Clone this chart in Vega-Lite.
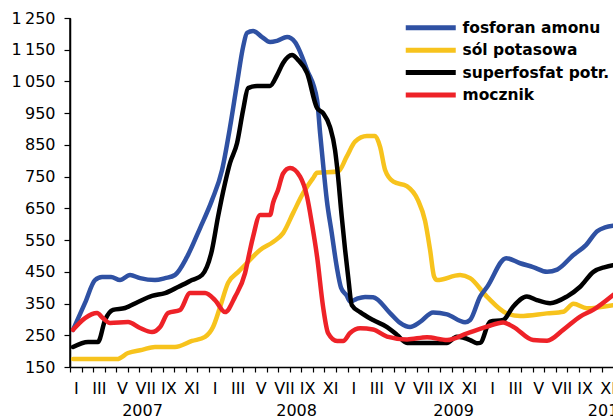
{
  "$schema": "https://vega.github.io/schema/vega-lite/v6.json",
  "width": 543,
  "height": 349,
  "autosize": {"type": "none"},
  "padding": {"left": 70, "top": 18, "right": 0, "bottom": 53},
  "background": "white",
  "config": {"view": {"stroke": null}, "font": "DejaVu Sans"},
  "datasets": {
    "prices": [
      {"series": "sól potasowa", "month": 0.26, "price": 175},
      {"series": "sól potasowa", "month": 4.07, "price": 175},
      {"series": "sól potasowa", "month": 5.02, "price": 194},
      {"series": "sól potasowa", "month": 6.23, "price": 204},
      {"series": "sól potasowa", "month": 7.35, "price": 213},
      {"series": "sól potasowa", "month": 9.08, "price": 213},
      {"series": "sól potasowa", "month": 10.55, "price": 232},
      {"series": "sól potasowa", "month": 11.68, "price": 245},
      {"series": "sól potasowa", "month": 12.37, "price": 276},
      {"series": "sól potasowa", "month": 12.98, "price": 339},
      {"series": "sól potasowa", "month": 13.67, "price": 415},
      {"series": "sól potasowa", "month": 14.53, "price": 449},
      {"series": "sól potasowa", "month": 15.31, "price": 478},
      {"series": "sól potasowa", "month": 16.44, "price": 519},
      {"series": "sól potasowa", "month": 17.56, "price": 544},
      {"series": "sól potasowa", "month": 18.43, "price": 572},
      {"series": "sól potasowa", "month": 19.29, "price": 635},
      {"series": "sól potasowa", "month": 20.16, "price": 698},
      {"series": "sól potasowa", "month": 21.02, "price": 745},
      {"series": "sól potasowa", "month": 21.37, "price": 762},
      {"series": "sól potasowa", "month": 23.18, "price": 766},
      {"series": "sól potasowa", "month": 23.93, "price": 813},
      {"series": "sól potasowa", "month": 24.65, "price": 860},
      {"series": "sól potasowa", "month": 25.67, "price": 878},
      {"series": "sól potasowa", "month": 26.38, "price": 878},
      {"series": "sól potasowa", "month": 26.82, "price": 844},
      {"series": "sól potasowa", "month": 27.25, "price": 771},
      {"series": "sól potasowa", "month": 27.97, "price": 734},
      {"series": "sól potasowa", "month": 29.13, "price": 720},
      {"series": "sól potasowa", "month": 30.10, "price": 675},
      {"series": "sól potasowa", "month": 30.71, "price": 610},
      {"series": "sól potasowa", "month": 31.14, "price": 519},
      {"series": "sól potasowa", "month": 31.49, "price": 435},
      {"series": "sól potasowa", "month": 31.75, "price": 424},
      {"series": "sól potasowa", "month": 33.74, "price": 440},
      {"series": "sól potasowa", "month": 34.60, "price": 430},
      {"series": "sól potasowa", "month": 36.05, "price": 372},
      {"series": "sól potasowa", "month": 37.78, "price": 319},
      {"series": "sól potasowa", "month": 38.93, "price": 311},
      {"series": "sól potasowa", "month": 41.24, "price": 319},
      {"series": "sól potasowa", "month": 42.67, "price": 324},
      {"series": "sól potasowa", "month": 43.54, "price": 349},
      {"series": "sól potasowa", "month": 44.70, "price": 335},
      {"series": "sól potasowa", "month": 46.97, "price": 345},

      {"series": "fosforan amonu", "month": 0.26, "price": 267},
      {"series": "fosforan amonu", "month": 1.30, "price": 352},
      {"series": "fosforan amonu", "month": 2.16, "price": 424},
      {"series": "fosforan amonu", "month": 2.77, "price": 434},
      {"series": "fosforan amonu", "month": 3.55, "price": 434},
      {"series": "fosforan amonu", "month": 4.33, "price": 424},
      {"series": "fosforan amonu", "month": 5.19, "price": 440},
      {"series": "fosforan amonu", "month": 6.06, "price": 430},
      {"series": "fosforan amonu", "month": 7.35, "price": 424},
      {"series": "fosforan amonu", "month": 8.22, "price": 430},
      {"series": "fosforan amonu", "month": 9.08, "price": 440},
      {"series": "fosforan amonu", "month": 10.12, "price": 497},
      {"series": "fosforan amonu", "month": 11.25, "price": 588},
      {"series": "fosforan amonu", "month": 12.28, "price": 676},
      {"series": "fosforan amonu", "month": 13.15, "price": 771},
      {"series": "fosforan amonu", "month": 13.84, "price": 906},
      {"series": "fosforan amonu", "month": 14.45, "price": 1045},
      {"series": "fosforan amonu", "month": 14.97, "price": 1159},
      {"series": "fosforan amonu", "month": 15.31, "price": 1203},
      {"series": "fosforan amonu", "month": 15.83, "price": 1209},
      {"series": "fosforan amonu", "month": 16.61, "price": 1190},
      {"series": "fosforan amonu", "month": 17.30, "price": 1174},
      {"series": "fosforan amonu", "month": 17.91, "price": 1178},
      {"series": "fosforan amonu", "month": 18.77, "price": 1190},
      {"series": "fosforan amonu", "month": 19.46, "price": 1174},
      {"series": "fosforan amonu", "month": 20.50, "price": 1086},
      {"series": "fosforan amonu", "month": 21.37, "price": 991},
      {"series": "fosforan amonu", "month": 21.63, "price": 887},
      {"series": "fosforan amonu", "month": 21.91, "price": 781},
      {"series": "fosforan amonu", "month": 22.21, "price": 676},
      {"series": "fosforan amonu", "month": 22.64, "price": 571},
      {"series": "fosforan amonu", "month": 23.07, "price": 466},
      {"series": "fosforan amonu", "month": 23.44, "price": 400},
      {"series": "fosforan amonu", "month": 23.93, "price": 375},
      {"series": "fosforan amonu", "month": 24.22, "price": 356},
      {"series": "fosforan amonu", "month": 24.80, "price": 365},
      {"series": "fosforan amonu", "month": 25.52, "price": 371},
      {"series": "fosforan amonu", "month": 26.21, "price": 370},
      {"series": "fosforan amonu", "month": 27.68, "price": 320},
      {"series": "fosforan amonu", "month": 28.55, "price": 289},
      {"series": "fosforan amonu", "month": 29.41, "price": 276},
      {"series": "fosforan amonu", "month": 30.28, "price": 292},
      {"series": "fosforan amonu", "month": 31.40, "price": 322},
      {"series": "fosforan amonu", "month": 32.61, "price": 316},
      {"series": "fosforan amonu", "month": 34.17, "price": 291},
      {"series": "fosforan amonu", "month": 34.60, "price": 298},
      {"series": "fosforan amonu", "month": 35.47, "price": 372},
      {"series": "fosforan amonu", "month": 36.07, "price": 402},
      {"series": "fosforan amonu", "month": 37.72, "price": 493},
      {"series": "fosforan amonu", "month": 38.93, "price": 477},
      {"series": "fosforan amonu", "month": 40.05, "price": 465},
      {"series": "fosforan amonu", "month": 41.26, "price": 450},
      {"series": "fosforan amonu", "month": 42.13, "price": 457},
      {"series": "fosforan amonu", "month": 43.51, "price": 502},
      {"series": "fosforan amonu", "month": 44.64, "price": 535},
      {"series": "fosforan amonu", "month": 45.59, "price": 578},
      {"series": "fosforan amonu", "month": 46.28, "price": 590},
      {"series": "fosforan amonu", "month": 46.97, "price": 595},

      {"series": "superfosfat potr.", "month": 0.26, "price": 213},
      {"series": "superfosfat potr.", "month": 1.56, "price": 229},
      {"series": "superfosfat potr.", "month": 2.42, "price": 229},
      {"series": "superfosfat potr.", "month": 3.03, "price": 298},
      {"series": "superfosfat potr.", "month": 3.72, "price": 330},
      {"series": "superfosfat potr.", "month": 4.76, "price": 336},
      {"series": "superfosfat potr.", "month": 5.88, "price": 355},
      {"series": "superfosfat potr.", "month": 7.09, "price": 374},
      {"series": "superfosfat potr.", "month": 8.22, "price": 383},
      {"series": "superfosfat potr.", "month": 9.34, "price": 402},
      {"series": "superfosfat potr.", "month": 10.55, "price": 424},
      {"series": "superfosfat potr.", "month": 11.42, "price": 440},
      {"series": "superfosfat potr.", "month": 12.28, "price": 519},
      {"series": "superfosfat potr.", "month": 12.80, "price": 623},
      {"series": "superfosfat potr.", "month": 13.41, "price": 730},
      {"series": "superfosfat potr.", "month": 13.84, "price": 793},
      {"series": "superfosfat potr.", "month": 14.45, "price": 856},
      {"series": "superfosfat potr.", "month": 14.97, "price": 960},
      {"series": "superfosfat potr.", "month": 15.40, "price": 1029},
      {"series": "superfosfat potr.", "month": 16.18, "price": 1036},
      {"series": "superfosfat potr.", "month": 17.30, "price": 1036},
      {"series": "superfosfat potr.", "month": 17.91, "price": 1070},
      {"series": "superfosfat potr.", "month": 18.43, "price": 1108},
      {"series": "superfosfat potr.", "month": 19.20, "price": 1133},
      {"series": "superfosfat potr.", "month": 19.72, "price": 1118},
      {"series": "superfosfat potr.", "month": 20.50, "price": 1077},
      {"series": "superfosfat potr.", "month": 21.37, "price": 966},
      {"series": "superfosfat potr.", "month": 21.89, "price": 950},
      {"series": "superfosfat potr.", "month": 22.49, "price": 906},
      {"series": "superfosfat potr.", "month": 22.92, "price": 834},
      {"series": "superfosfat potr.", "month": 23.10, "price": 780},
      {"series": "superfosfat potr.", "month": 23.50, "price": 624},
      {"series": "superfosfat potr.", "month": 23.79, "price": 520},
      {"series": "superfosfat potr.", "month": 24.07, "price": 430},
      {"series": "superfosfat potr.", "month": 24.37, "price": 345},
      {"series": "superfosfat potr.", "month": 25.09, "price": 323},
      {"series": "superfosfat potr.", "month": 26.21, "price": 298},
      {"series": "superfosfat potr.", "month": 27.42, "price": 276},
      {"series": "superfosfat potr.", "month": 28.29, "price": 251},
      {"series": "superfosfat potr.", "month": 29.15, "price": 226},
      {"series": "superfosfat potr.", "month": 30.28, "price": 226},
      {"series": "superfosfat potr.", "month": 32.59, "price": 226},
      {"series": "superfosfat potr.", "month": 33.45, "price": 245},
      {"series": "superfosfat potr.", "month": 34.60, "price": 235},
      {"series": "superfosfat potr.", "month": 35.18, "price": 225},
      {"series": "superfosfat potr.", "month": 35.47, "price": 226},
      {"series": "superfosfat potr.", "month": 36.33, "price": 293},
      {"series": "superfosfat potr.", "month": 37.46, "price": 298},
      {"series": "superfosfat potr.", "month": 38.32, "price": 340},
      {"series": "superfosfat potr.", "month": 39.51, "price": 372},
      {"series": "superfosfat potr.", "month": 40.37, "price": 361},
      {"series": "superfosfat potr.", "month": 41.52, "price": 351},
      {"series": "superfosfat potr.", "month": 42.97, "price": 372},
      {"series": "superfosfat potr.", "month": 44.12, "price": 403},
      {"series": "superfosfat potr.", "month": 45.27, "price": 450},
      {"series": "superfosfat potr.", "month": 46.28, "price": 465},
      {"series": "superfosfat potr.", "month": 46.97, "price": 471},

      {"series": "mocznik", "month": 0.26, "price": 267},
      {"series": "mocznik", "month": 1.30, "price": 304},
      {"series": "mocznik", "month": 2.34, "price": 320},
      {"series": "mocznik", "month": 2.85, "price": 304},
      {"series": "mocznik", "month": 3.46, "price": 289},
      {"series": "mocznik", "month": 5.02, "price": 292},
      {"series": "mocznik", "month": 6.06, "price": 273},
      {"series": "mocznik", "month": 7.09, "price": 260},
      {"series": "mocznik", "month": 7.79, "price": 276},
      {"series": "mocznik", "month": 8.48, "price": 320},
      {"series": "mocznik", "month": 9.52, "price": 330},
      {"series": "mocznik", "month": 10.38, "price": 383},
      {"series": "mocznik", "month": 11.68, "price": 383},
      {"series": "mocznik", "month": 12.54, "price": 361},
      {"series": "mocznik", "month": 13.41, "price": 323},
      {"series": "mocznik", "month": 14.27, "price": 371},
      {"series": "mocznik", "month": 15.14, "price": 446},
      {"series": "mocznik", "month": 15.57, "price": 519},
      {"series": "mocznik", "month": 15.83, "price": 560},
      {"series": "mocznik", "month": 16.44, "price": 629},
      {"series": "mocznik", "month": 17.30, "price": 629},
      {"series": "mocznik", "month": 17.56, "price": 667},
      {"series": "mocznik", "month": 17.99, "price": 708},
      {"series": "mocznik", "month": 18.43, "price": 760},
      {"series": "mocznik", "month": 19.03, "price": 777},
      {"series": "mocznik", "month": 19.90, "price": 750},
      {"series": "mocznik", "month": 20.50, "price": 687},
      {"series": "mocznik", "month": 20.93, "price": 600},
      {"series": "mocznik", "month": 21.37, "price": 497},
      {"series": "mocznik", "month": 21.89, "price": 339},
      {"series": "mocznik", "month": 22.32, "price": 257},
      {"series": "mocznik", "month": 23.10, "price": 232},
      {"series": "mocznik", "month": 23.62, "price": 232},
      {"series": "mocznik", "month": 24.22, "price": 257},
      {"series": "mocznik", "month": 25.09, "price": 272},
      {"series": "mocznik", "month": 26.21, "price": 268},
      {"series": "mocznik", "month": 27.42, "price": 246},
      {"series": "mocznik", "month": 29.15, "price": 237},
      {"series": "mocznik", "month": 30.88, "price": 244},
      {"series": "mocznik", "month": 32.61, "price": 235},
      {"series": "mocznik", "month": 34.34, "price": 256},
      {"series": "mocznik", "month": 36.07, "price": 277},
      {"series": "mocznik", "month": 37.46, "price": 290},
      {"series": "mocznik", "month": 38.32, "price": 277},
      {"series": "mocznik", "month": 40.05, "price": 235},
      {"series": "mocznik", "month": 41.26, "price": 233},
      {"series": "mocznik", "month": 42.65, "price": 267},
      {"series": "mocznik", "month": 44.12, "price": 309},
      {"series": "mocznik", "month": 45.24, "price": 330},
      {"series": "mocznik", "month": 46.97, "price": 377}
    ]
  },
  "layer": [
    {
      "data": {"name": "prices"},
      "mark": {"type": "line", "strokeWidth": 4.5, "strokeCap": "round", "strokeJoin": "round", "interpolate": "monotone", "clip": true},
      "encoding": {
        "x": {
          "field": "month",
          "type": "quantitative",
          "scale": {"domain": [0, 46.96], "nice": false, "zero": false},
          "axis": {
            "orient": "bottom",
            "title": null,
            "grid": false,
            "values": [0,1,2,3,4,5,6,7,8,9,10,11,12,13,14,15,16,17,18,19,20,21,22,23,24,25,26,27,28,29,30,31,32,33,34,35,36,37,38,39,40,41,42,43,44,45,46],
            "labelExpr": "['I','','III','','V','','VII','','IX','','XI',''][datum.value % 12]",
            "labelOffset": 5.78,
            "labelFlush": false,
            "labelOverlap": false,
            "labelBound": false,
            "labelFont": "DejaVu Sans",
            "labelFontSize": 16,
            "labelColor": "black",
            "labelPadding": 8,
            "tickSize": 5,
            "tickColor": "black",
            "tickWidth": 1.2,
            "domainColor": "black",
            "domainWidth": 1.5
          }
        },
        "y": {
          "field": "price",
          "type": "quantitative",
          "scale": {"domain": [150, 1250], "nice": false, "zero": false},
          "axis": {
            "title": null,
            "grid": false,
            "values": [150,250,350,450,550,650,750,850,950,1050,1150,1250],
            "labelExpr": "replace(format(datum.value, ','), ',', '\u2009')",
            "labelFont": "DejaVu Sans",
            "labelFontSize": 16,
            "labelColor": "black",
            "labelPadding": 9,
            "labelOverlap": false,
            "labelFlush": false,
            "tickSize": 6,
            "tickColor": "black",
            "tickWidth": 1.2,
            "domainColor": "black",
            "domainWidth": 1.5
          }
        },
        "color": {
          "field": "series",
          "type": "nominal",
          "scale": {
            "domain": ["fosforan amonu", "sól potasowa", "superfosfat potr.", "mocznik"],
            "range": ["#2F51A3", "#F7C31D", "#000000", "#EE2228"]
          },
          "legend": {
            "orient": "none",
            "legendX": 353,
            "legendY": 2,
            "title": null,
            "padding": 0,
            "symbolType": "M-5,0H5",
            "symbolSize": 100,
            "symbolStrokeWidth": 5,
            "labelFont": "DejaVu Sans",
            "labelFontWeight": "bold",
            "labelFontSize": 15.5,
            "labelColor": "black",
            "labelOffset": 24,
            "rowPadding": 1.4,
            "labelLimit": 300
          }
        }
      }
    },
    {
      "data": {"values": [{}]},
      "mark": {"type": "rule", "color": "black", "strokeWidth": 1.5},
      "encoding": {
        "x": {
          "datum": 0,
          "type": "quantitative",
          "axis": {
            "orient": "bottom",
            "title": null,
            "grid": false,
            "domain": false,
            "ticks": false,
            "tickSize": 0,
            "values": [6.23, 19.55, 33.13, 46.5],
            "labelExpr": "datum.value < 12 ? '2007' : datum.value < 24 ? '2008' : datum.value < 36 ? '2009' : '2010'",
            "labelFlush": false,
            "labelOverlap": false,
            "labelBound": false,
            "labelFont": "DejaVu Sans",
            "labelFontSize": 16,
            "labelColor": "black",
            "labelPadding": 35
          }
        }
      }
    }
  ],
  "resolve": {"axis": {"x": "independent"}}
}
